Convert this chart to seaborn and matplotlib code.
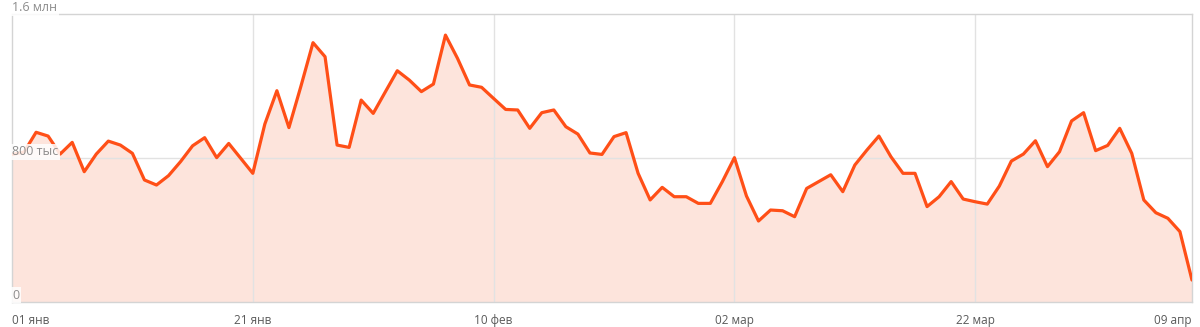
import matplotlib
matplotlib.use("Agg")
import matplotlib.pyplot as plt
import seaborn as sns
import pandas as pd
import numpy as np

# ---- data ----
start_date = "2023-01-01"
values_k = [
    820, 833, 943, 922, 822, 887, 724, 822, 894, 872,
    826, 678, 650, 702, 780, 868, 913, 802, 881, 798,
    715, 989, 1174, 969, 1200, 1441, 1363, 872, 859, 1122,
    1048, 1167, 1285, 1233, 1169, 1211, 1483, 1354, 1206, 1193,
    1131, 1070, 1067, 965, 1052, 1067, 974, 933, 828, 820,
    919, 941, 715, 567, 637, 585, 585, 548, 548, 669,
    802, 589, 450, 511, 507, 474, 631, 669, 707, 613,
    761, 844, 922, 807, 715, 715, 530, 585, 669, 572,
    557, 544, 644, 783, 822, 896, 752, 835, 1006, 1052,
    841, 870, 965, 826, 567, 496, 465, 391, 122,
]
tick_dates = ["2023-01-01", "2023-01-21", "2023-02-10", "2023-03-02", "2023-03-22", "2023-04-09"]
tick_labels = ["01 янв", "21 янв", "10 фев", "02 мар", "22 мар", "09 апр"]
y_ticks = [0, 800000, 1600000]
y_labels = ["0", "800 тыс", "1.6 млн"]

dates = pd.date_range(start_date, periods=len(values_k), freq="D")
df = pd.DataFrame({"date": dates, "value": np.array(values_k) * 1000})

sns.set_theme(style="white")
plt.rcParams["font.family"] = ["Open Sans", "DejaVu Sans"]

fig = plt.figure(figsize=(12, 3.27), dpi=100)
ax = fig.add_axes([0.01, 0.0765, 0.9833, 0.8805])

line_c = "#FF4F17"
fill_c = "#FDE4DC"
grid_c = "#E2E2E2"
text_c = "#8C8C8C"

ax.fill_between(df["date"], 0, df["value"], color=fill_c, zorder=1, linewidth=0)
sns.lineplot(data=df, x="date", y="value", color=line_c, linewidth=2.3, ax=ax, zorder=3)

ax.set_xlim(dates[0], dates[-1])
ax.set_ylim(0, 1600000)

td = pd.to_datetime(tick_dates)
ax.set_xticks(td)
ax.set_xticklabels(tick_labels, fontsize=8.5, color="#5A5A5A")
ax.tick_params(axis="x", length=0, pad=9)
labs = ax.get_xticklabels()
labs[0].set_horizontalalignment("left")
labs[-1].set_horizontalalignment("right")

ax.set_yticks(y_ticks)
ax.set_yticklabels([])
ax.tick_params(axis="y", length=0)

for d in td[1:-1]:
    ax.axvline(d, color=grid_c, linewidth=1, zorder=2)
ax.axhline(800000, color=grid_c, linewidth=1, zorder=2)

for s in ax.spines.values():
    s.set_color("#D4D4D4")
    s.set_linewidth(1)

for v, lab in zip(y_ticks, y_labels):
    ax.text(dates[0], v, lab, fontsize=9, color=text_c, ha="left", va="bottom",
            zorder=5, clip_on=False,
            bbox=dict(boxstyle="square,pad=0.12", facecolor="white", edgecolor="none", alpha=0.85))

ax.set_xlabel("")
ax.set_ylabel("")
fig.savefig("out.png", dpi=100)
